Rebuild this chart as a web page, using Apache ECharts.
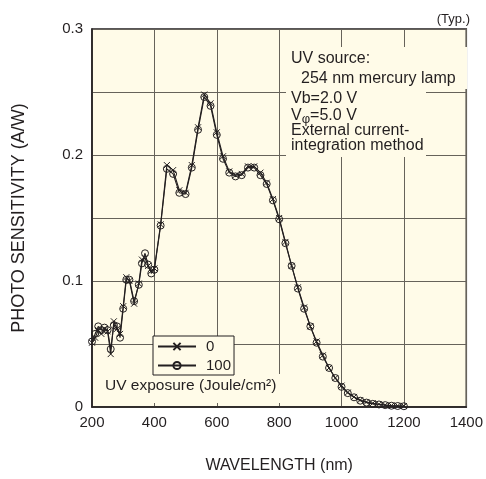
<!DOCTYPE html>
<html>
<head>
<meta charset="utf-8">
<script src="https://cdn.jsdelivr.net/npm/echarts@6/dist/echarts.min.js"></script>
<style>
html,body{margin:0;padding:0;background:#fff;}
#chart{width:486px;height:479px;}
</style>
</head>
<body>
<div id="chart"></div>
<script>
// ---- data ----
const wavelengths = [200,210,220,230,240,250,260,270,280,290,300,310,320,335,350,360,370,380,390,400,420,440,460,480,500,520,540,560,580,600,620,640,660,680,700,720,740,760,780,800,820,840,860,880,900,920,940,960,980,1000,1020,1040,1060,1080,1100,1120,1140,1160,1180,1200];
const sens0 = [0.051,0.055,0.061,0.058,0.062,0.060,0.042,0.068,0.062,0.058,0.080,0.103,0.100,0.082,0.098,0.117,0.118,0.112,0.108,0.110,0.145,0.192,0.188,0.172,0.170,0.192,0.222,0.248,0.241,0.218,0.199,0.187,0.184,0.185,0.191,0.191,0.186,0.178,0.165,0.150,0.131,0.112,0.095,0.079,0.064,0.052,0.041,0.031,0.023,0.017,0.0115,0.008,0.0055,0.004,0.003,0.0022,0.0016,0.0012,0.001,0.0008];
const sens100 = [0.052,0.058,0.064,0.061,0.063,0.061,0.046,0.065,0.064,0.055,0.078,0.101,0.101,0.084,0.097,0.114,0.122,0.113,0.106,0.109,0.144,0.189,0.185,0.170,0.169,0.190,0.220,0.246,0.239,0.216,0.197,0.186,0.183,0.184,0.190,0.190,0.184,0.177,0.164,0.149,0.130,0.112,0.094,0.078,0.064,0.051,0.040,0.031,0.023,0.016,0.011,0.0077,0.005,0.0035,0.0025,0.002,0.0015,0.001,0.0008,0.0006];
const seriesNames = ['0','100'];
const xTicks = {min:200, max:1400, interval:200};
const yTicks = {min:0, max:0.3, interval:0.05};

const BG = '#fffbe8';
const INK = '#231f20';
const GRID = '#66625a';
const FONT = '"Liberation Sans", Arial, Helvetica, sans-serif';

const chart = echarts.init(document.getElementById('chart'), null, {renderer:'canvas'});
const pairs = (xs, ys) => xs.map((x,i)=>[x, ys[i]]);

const option = {
  animation:false,
  backgroundColor:'#ffffff',
  grid:{left:92, top:29, right:18, bottom:72, show:true, backgroundColor:BG, borderColor:INK, borderWidth:1.5},
  xAxis:{
    type:'value', min:xTicks.min, max:xTicks.max, interval:xTicks.interval,
    name:'WAVELENGTH (nm)', nameLocation:'middle', nameGap:51,
    nameTextStyle:{fontFamily:FONT, fontSize:16, color:INK},
    axisLine:{show:true, lineStyle:{color:INK, width:1.5}},
    axisTick:{show:false},
    axisLabel:{fontFamily:FONT, fontSize:15, color:INK, margin:8, formatter:function(v){return String(v);}},
    splitLine:{show:true, lineStyle:{color:GRID, width:1}}
  },
  yAxis:{
    type:'value', min:yTicks.min, max:yTicks.max, interval:yTicks.interval,
    name:'PHOTO SENSITIVITY (A/W)', nameLocation:'middle', nameGap:64, nameRotate:90,
    nameTextStyle:{fontFamily:FONT, fontSize:18, color:INK},
    axisLine:{show:true, lineStyle:{color:INK, width:1.5}},
    axisTick:{show:false},
    axisLabel:{fontFamily:FONT, fontSize:15, color:INK, margin:9,
      formatter:function(v){ const k=Math.round(v*100); return k%10===0 ? String(Math.round(v*10)/10) : ''; }},
    splitLine:{show:true, lineStyle:{color:GRID, width:1}}
  },
  legend:{
    orient:'vertical', left:153, top:336,
    data:seriesNames,
    itemWidth:38, itemHeight:9, itemGap:4,
    padding:[3,3,2,4],
    backgroundColor:BG, borderColor:INK, borderWidth:1,
    textStyle:{fontFamily:FONT, fontSize:15, color:INK, padding:[0,0,0,5]},
    z:20
  },
  series:[
    {
      name:seriesNames[0], type:'line', data:pairs(wavelengths, sens0),
      symbol:'path://M0,0L10,10M10,0L0,10', symbolSize:6, showAllSymbol:true,
      lineStyle:{color:INK, width:1.1},
      itemStyle:{color:'rgba(0,0,0,0)', borderColor:INK, borderWidth:1},
      z:3
    },
    {
      name:seriesNames[1], type:'line', data:pairs(wavelengths, sens100),
      symbol:'circle', symbolSize:7, showAllSymbol:true,
      lineStyle:{color:INK, width:1.1},
      itemStyle:{color:'rgba(0,0,0,0)', borderColor:INK, borderWidth:1},
      z:3
    }
  ],
  graphic:[
    {type:'rect', z:10, shape:{x:286, y:47, width:181, height:42}, style:{fill:BG}},
    {type:'rect', z:10, shape:{x:286, y:88, width:140, height:69}, style:{fill:BG}},
    {type:'rect', z:10, shape:{x:93, y:374, width:190, height:29}, style:{fill:BG}},
    {type:'text', z:11, x:291, y:58.5, style:{text:'UV source:', font:'16px '+FONT, fill:INK, verticalAlign:'middle'}},
    {type:'text', z:11, x:301, y:78.5, style:{text:'254 nm mercury lamp', font:'16px '+FONT, fill:INK, verticalAlign:'middle'}},
    {type:'text', z:11, x:291, y:98.5, style:{text:'Vb=2.0 V', font:'16px '+FONT, fill:INK, verticalAlign:'middle'}},
    {type:'text', z:11, x:291, y:116, style:{text:'{n|V}{s|φ}{n|=5.0 V}', font:'16px '+FONT, fill:INK, verticalAlign:'middle',
      rich:{n:{fontSize:16, fontFamily:FONT, lineHeight:20, fill:INK}, s:{fontSize:13, fontFamily:FONT, lineHeight:13, verticalAlign:'bottom', fill:INK}}}},
    {type:'text', z:11, x:291, y:130.5, style:{text:'External current-', font:'16px '+FONT, fill:INK, verticalAlign:'middle'}},
    {type:'text', z:11, x:291, y:146, style:{text:'integration method', font:'16px '+FONT, fill:INK, verticalAlign:'middle'}},
    {type:'text', z:11, x:470, y:19, style:{text:'(Typ.)', font:'13px '+FONT, fill:INK, align:'right', verticalAlign:'middle'}},
    {type:'text', z:11, x:105, y:386, style:{text:'UV exposure (Joule/cm²)', font:'15.5px '+FONT, fill:INK, verticalAlign:'middle'}}
  ]
};
chart.setOption(option);
</script>
</body>
</html>
